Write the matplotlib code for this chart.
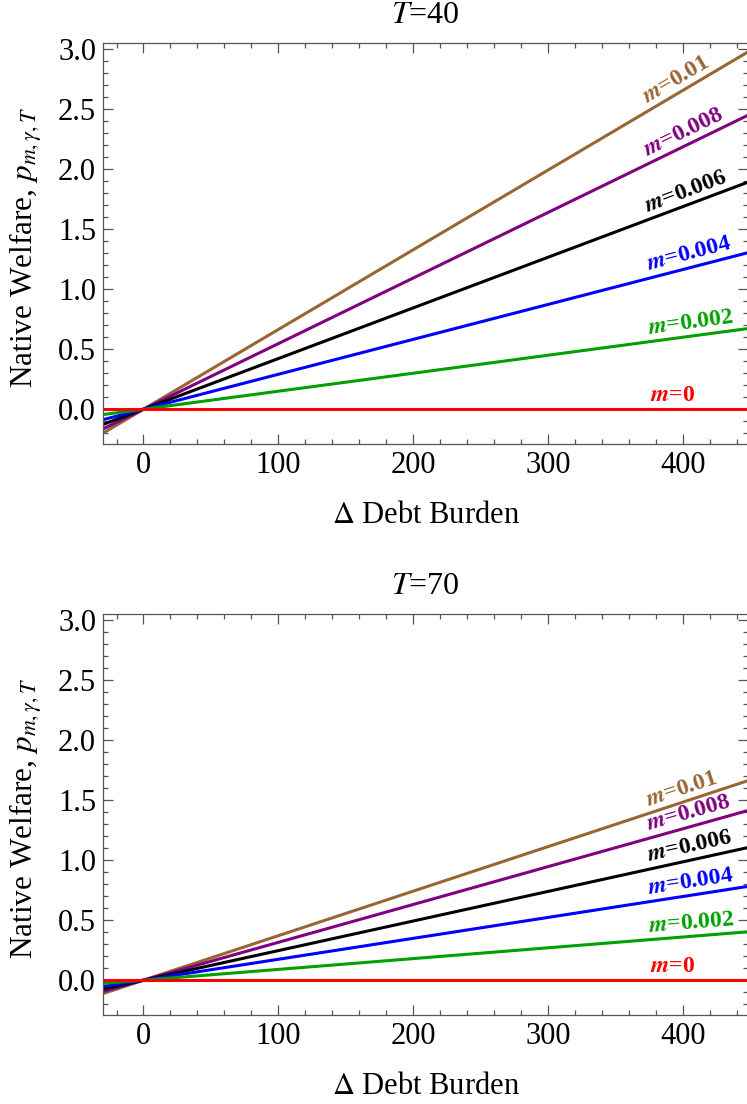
import numpy as np
import matplotlib
matplotlib.use("Agg")
import matplotlib.pyplot as plt
from matplotlib.ticker import MultipleLocator

plt.rcParams['font.family'] = ['Liberation Serif', 'DejaVu Serif']
plt.rcParams['mathtext.fontset'] = 'stix'

# values read at debt burden = 450 for each m
m_labels = ['0.01', '0.008', '0.006', '0.004', '0.002', '0']
colors = ['#996633', '#800080', '#000000', '#0000ff', '#00a000', '#ff0000']
end_T40 = [2.99, 2.46, 1.90, 1.31, 0.675, 0.0]
end_T70 = [1.67, 1.42, 1.11, 0.785, 0.405, 0.0]
x_end = 450
x_range = np.array([-30, x_end])
titles = ['40', '70']

fig = plt.figure(figsize=(7.47, 11.04), dpi=100)
ax1 = fig.add_axes([0.1379, 0.5978, 0.8635, 0.3632])
ax2 = fig.add_axes([0.1379, 0.0806, 0.8635, 0.3632])

fs = 22
for ax, ends, T in zip([ax1, ax2], [end_T40, end_T70], titles):
    ax.set_xlim(-30, 448)
    ax.set_ylim(-0.29, 3.05)
    for lab, c, e in zip(m_labels, colors, ends):
        slope = e / x_end
        ax.plot(x_range, slope * x_range, color=c, lw=2.2, solid_capstyle='butt')
    ax.text(0.5, 1.068, '$T$=' + T, fontsize=23, transform=ax.transAxes,
            ha='center', va='center')
    ax.set_xlabel(r'$\Delta$ Debt Burden', fontsize=fs, va='center')
    ax.xaxis.set_label_coords(0.5, -0.178)
    ax.set_ylabel(r'Native Welfare, $p_{m,\gamma,T}$', fontsize=22.5, va='center')
    ax.yaxis.set_label_coords(-0.118, 0.49)
    ax.xaxis.set_major_locator(MultipleLocator(100))
    ax.xaxis.set_minor_locator(MultipleLocator(20))
    ax.yaxis.set_major_locator(MultipleLocator(0.5))
    ax.yaxis.set_minor_locator(MultipleLocator(0.1))
    ax.yaxis.set_major_formatter(matplotlib.ticker.FormatStrFormatter('%.1f'))
    ax.tick_params(which='both', direction='in', top=True, right=True,
                   color='#555555', labelsize=fs, width=0.9)
    ax.tick_params(which='major', length=7, pad=5)
    ax.tick_params(which='minor', length=3.5)
    for s in ax.spines.values():
        s.set_color('#555555')
        s.set_linewidth(0.9)

fig.canvas.draw()
for ax, ends in zip([ax1, ax2], [end_T40, end_T70]):
    for lab, c, e in zip(m_labels, colors, ends):
        slope = e / x_end
        x0 = 375
        p1 = ax.transData.transform((0, 0))
        p2 = ax.transData.transform((100, 100 * slope))
        ang = np.degrees(np.arctan2(p2[1] - p1[1], p2[0] - p1[0]))
        ax.annotate(r'$\boldsymbol{m}$=' + lab, xy=(x0, slope * x0),
                    xytext=(0, 2), textcoords='offset points',
                    rotation=ang, rotation_mode='anchor', ha='left', va='bottom',
                    color=c, fontsize=17, fontweight='bold')

fig.savefig('out.png', dpi=100)
